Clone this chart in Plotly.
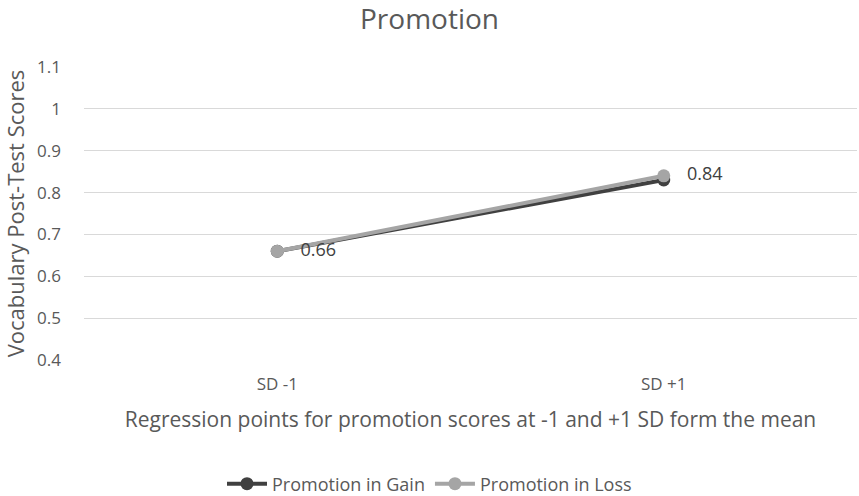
import plotly.graph_objects as go

categories = ["SD -1", "SD +1"]
gain_values = [0.66, 0.83]
loss_values = [0.66, 0.84]
loss_labels = ["0.66", "0.84"]

TEXT = "#595959"
FONT = "Open Sans, Liberation Sans, sans-serif"

fig = go.Figure()
fig.add_trace(go.Scatter(
    x=categories, y=gain_values, name="Promotion in Gain",
    mode="lines+markers",
    line=dict(color="#404040", width=4),
    marker=dict(color="#404040", size=13),
))
fig.add_trace(go.Scatter(
    x=categories, y=loss_values, name="Promotion in Loss",
    mode="lines+markers+text",
    line=dict(color="#A5A5A5", width=4),
    marker=dict(color="#A5A5A5", size=13),
    text=["   " + s for s in loss_labels], textposition="middle right",
    textfont=dict(size=18, color="#404040", family=FONT),
))

fig.update_layout(
    width=859, height=496,
    margin=dict(l=84, r=2, t=67, b=136, autoexpand=False),
    paper_bgcolor="white", plot_bgcolor="white",
    font=dict(family=FONT, color=TEXT, size=16),
    title=dict(text="Promotion", x=0.5, xanchor="center", y=0.962, yanchor="middle",
               font=dict(size=28, color=TEXT, family=FONT)),
    xaxis=dict(
        type="category", range=[-0.5, 1.5],
        showgrid=False, showline=False, ticks="",
        tickfont=dict(size=17, color=TEXT),
        ticklabelstandoff=12,
        title=dict(text="Regression points for promotion scores at -1 and +1 SD form the mean",
                   font=dict(size=21, color=TEXT), standoff=18),
    ),
    yaxis=dict(
        range=[0.4, 1.1], dtick=0.1, tick0=0.4,
        showgrid=True, gridcolor="#D9D9D9", gridwidth=1,
        zeroline=False, showline=False, ticks="",
        tickfont=dict(size=17, color=TEXT),
        ticklabelstandoff=22,
        tickformat="~g",
        title=dict(text="Vocabulary Post-Test Scores", font=dict(size=22, color=TEXT), standoff=6),
    ),
    legend=dict(orientation="h", xref="container", x=0.5, xanchor="center",
                y=-0.423, yanchor="middle",
                font=dict(size=18, color=TEXT), itemwidth=40),
    showlegend=True,
)

fig.write_html("out.html")
